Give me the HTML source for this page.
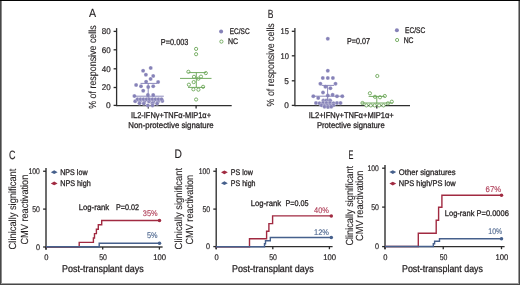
<!DOCTYPE html>
<html><head><meta charset="utf-8"><style>
html,body{margin:0;padding:0;background:#fff;}
svg{display:block;will-change:transform;}
text{font-family:"Liberation Sans", sans-serif;stroke:currentColor;stroke-width:0.28px;text-rendering:geometricPrecision;}
text.big{stroke-width:0.15px;}
text.r{stroke-width:0.1px;}
text.n{stroke-width:0.2px;}
text.p{stroke-width:0.15px;}
</style></head><body>
<svg width="520" height="285" viewBox="0 0 520 285">
<text x="89.0" y="17.2" font-size="11.8" textLength="7.10" lengthAdjust="spacingAndGlyphs" fill="#231f20" style="color:#231f20" class="big">A</text>
<text class="r" transform="translate(95.6,108.8) rotate(-90)" x="0" y="0" font-size="10.3" textLength="83.50" lengthAdjust="spacingAndGlyphs" fill="#231f20" style="color:#231f20">% of responsive cells</text>
<line x1="116.6" y1="28.1" x2="116.6" y2="106.2" stroke="#2e2e2e" stroke-width="1.3"/>
<line x1="116.6" y1="105.6" x2="231.7" y2="105.6" stroke="#2e2e2e" stroke-width="1.25"/>
<line x1="113.6" y1="31.4" x2="116.5" y2="31.4" stroke="#2a2a2a" stroke-width="1.3"/>
<text x="101.8" y="34.3" font-size="8.3" textLength="8.90" lengthAdjust="spacingAndGlyphs" fill="#231f20" style="color:#231f20" class="n">80</text>
<line x1="113.6" y1="49.8" x2="116.5" y2="49.8" stroke="#2a2a2a" stroke-width="1.3"/>
<text x="101.8" y="52.699999999999996" font-size="8.3" textLength="8.90" lengthAdjust="spacingAndGlyphs" fill="#231f20" style="color:#231f20" class="n">60</text>
<line x1="113.6" y1="68.8" x2="116.5" y2="68.8" stroke="#2a2a2a" stroke-width="1.3"/>
<text x="101.8" y="71.7" font-size="8.3" textLength="8.90" lengthAdjust="spacingAndGlyphs" fill="#231f20" style="color:#231f20" class="n">40</text>
<line x1="113.6" y1="87.5" x2="116.5" y2="87.5" stroke="#2a2a2a" stroke-width="1.3"/>
<text x="101.8" y="90.4" font-size="8.3" textLength="8.90" lengthAdjust="spacingAndGlyphs" fill="#231f20" style="color:#231f20" class="n">20</text>
<line x1="113.6" y1="105.4" x2="116.5" y2="105.4" stroke="#2a2a2a" stroke-width="1.3"/>
<text x="106.0" y="108.30000000000001" font-size="8.3" textLength="4.70" lengthAdjust="spacingAndGlyphs" fill="#231f20" style="color:#231f20" class="n">0</text>
<line x1="148.3" y1="105.4" x2="148.3" y2="108.5" stroke="#2a2a2a" stroke-width="1.3"/>
<line x1="196.1" y1="105.4" x2="196.1" y2="108.5" stroke="#2a2a2a" stroke-width="1.3"/>
<text x="160.8" y="45.2" font-size="8.7" textLength="27.60" lengthAdjust="spacingAndGlyphs" fill="#231f20" style="color:#231f20">P=0.003</text>
<circle cx="221.1" cy="31.4" r="2.0" fill="#8682b8" stroke="#fff" stroke-opacity="0.75" stroke-width="0"/>
<text x="229.8" y="34.0" font-size="8.2" textLength="19.80" lengthAdjust="spacingAndGlyphs" fill="#231f20" style="color:#231f20">EC/SC</text>
<circle cx="221.4" cy="41.6" r="1.6" fill="#fff" stroke="#6ca758" stroke-width="0.9"/>
<text x="227.9" y="44.0" font-size="8.2" textLength="10.10" lengthAdjust="spacingAndGlyphs" fill="#231f20" style="color:#231f20">NC</text>
<text x="131" y="118.4" font-size="8.4" textLength="80.00" lengthAdjust="spacingAndGlyphs" fill="#231f20" style="color:#231f20">IL2-IFN&#947;+TNF&#945;-MIP1&#945;+</text>
<text x="128.3" y="128.0" font-size="8.4" textLength="85.40" lengthAdjust="spacingAndGlyphs" fill="#231f20" style="color:#231f20">Non-protective signature</text>
<circle cx="150.7" cy="67.9" r="2.0" fill="#8682b8" stroke="#fff" stroke-opacity="0.75" stroke-width="0.35"/>
<circle cx="143.1" cy="70.8" r="2.0" fill="#8682b8" stroke="#fff" stroke-opacity="0.75" stroke-width="0.35"/>
<circle cx="145.9" cy="74.8" r="2.0" fill="#8682b8" stroke="#fff" stroke-opacity="0.75" stroke-width="0.35"/>
<circle cx="153.2" cy="75.9" r="2.0" fill="#8682b8" stroke="#fff" stroke-opacity="0.75" stroke-width="0.35"/>
<circle cx="150.6" cy="78.9" r="2.0" fill="#8682b8" stroke="#fff" stroke-opacity="0.75" stroke-width="0.35"/>
<circle cx="146.1" cy="81.7" r="2.0" fill="#8682b8" stroke="#fff" stroke-opacity="0.75" stroke-width="0.35"/>
<circle cx="158.1" cy="82.1" r="2.0" fill="#8682b8" stroke="#fff" stroke-opacity="0.75" stroke-width="0.35"/>
<circle cx="136.1" cy="85.0" r="2.0" fill="#8682b8" stroke="#fff" stroke-opacity="0.75" stroke-width="0.35"/>
<circle cx="141.0" cy="86.3" r="2.0" fill="#8682b8" stroke="#fff" stroke-opacity="0.75" stroke-width="0.35"/>
<circle cx="148.2" cy="86.9" r="2.0" fill="#8682b8" stroke="#fff" stroke-opacity="0.75" stroke-width="0.35"/>
<circle cx="153.2" cy="86.3" r="2.0" fill="#8682b8" stroke="#fff" stroke-opacity="0.75" stroke-width="0.35"/>
<circle cx="143.2" cy="90.7" r="2.0" fill="#8682b8" stroke="#fff" stroke-opacity="0.75" stroke-width="0.35"/>
<circle cx="147.9" cy="94.9" r="2.0" fill="#8682b8" stroke="#fff" stroke-opacity="0.75" stroke-width="0.35"/>
<circle cx="153.2" cy="94.9" r="2.0" fill="#8682b8" stroke="#fff" stroke-opacity="0.75" stroke-width="0.35"/>
<circle cx="134.4" cy="96.1" r="2.0" fill="#8682b8" stroke="#fff" stroke-opacity="0.75" stroke-width="0.35"/>
<circle cx="135.2" cy="101.2" r="2.0" fill="#8682b8" stroke="#fff" stroke-opacity="0.75" stroke-width="0.35"/>
<circle cx="139.8" cy="101.2" r="2.0" fill="#8682b8" stroke="#fff" stroke-opacity="0.75" stroke-width="0.35"/>
<circle cx="144.5" cy="101.4" r="2.0" fill="#8682b8" stroke="#fff" stroke-opacity="0.75" stroke-width="0.35"/>
<circle cx="149" cy="101.4" r="2.0" fill="#8682b8" stroke="#fff" stroke-opacity="0.75" stroke-width="0.35"/>
<circle cx="153.5" cy="101.4" r="2.0" fill="#8682b8" stroke="#fff" stroke-opacity="0.75" stroke-width="0.35"/>
<circle cx="158" cy="101.4" r="2.0" fill="#8682b8" stroke="#fff" stroke-opacity="0.75" stroke-width="0.35"/>
<circle cx="162.3" cy="101.0" r="2.0" fill="#8682b8" stroke="#fff" stroke-opacity="0.75" stroke-width="0.35"/>
<circle cx="137.5" cy="99.2" r="2.0" fill="#8682b8" stroke="#fff" stroke-opacity="0.75" stroke-width="0.35"/>
<circle cx="140.5" cy="99.2" r="2.0" fill="#8682b8" stroke="#fff" stroke-opacity="0.75" stroke-width="0.35"/>
<circle cx="143.5" cy="99.2" r="2.0" fill="#8682b8" stroke="#fff" stroke-opacity="0.75" stroke-width="0.35"/>
<circle cx="146.5" cy="99.2" r="2.0" fill="#8682b8" stroke="#fff" stroke-opacity="0.75" stroke-width="0.35"/>
<circle cx="149.5" cy="99.2" r="2.0" fill="#8682b8" stroke="#fff" stroke-opacity="0.75" stroke-width="0.35"/>
<circle cx="152.5" cy="99.2" r="2.0" fill="#8682b8" stroke="#fff" stroke-opacity="0.75" stroke-width="0.35"/>
<circle cx="155.5" cy="99.2" r="2.0" fill="#8682b8" stroke="#fff" stroke-opacity="0.75" stroke-width="0.35"/>
<circle cx="158.5" cy="99.2" r="2.0" fill="#8682b8" stroke="#fff" stroke-opacity="0.75" stroke-width="0.35"/>
<circle cx="161.5" cy="99.2" r="2.0" fill="#8682b8" stroke="#fff" stroke-opacity="0.75" stroke-width="0.35"/>
<circle cx="139.5" cy="103.3" r="2.0" fill="#8682b8" stroke="#fff" stroke-opacity="0.75" stroke-width="0.35"/>
<circle cx="143.8" cy="103.6" r="2.0" fill="#8682b8" stroke="#fff" stroke-opacity="0.75" stroke-width="0.35"/>
<circle cx="157.1" cy="103.6" r="2.0" fill="#8682b8" stroke="#fff" stroke-opacity="0.75" stroke-width="0.35"/>
<circle cx="152.5" cy="103.3" r="2.0" fill="#8682b8" stroke="#fff" stroke-opacity="0.75" stroke-width="0.35"/>
<circle cx="147.8" cy="105.4" r="2.0" fill="#8682b8" stroke="#fff" stroke-opacity="0.75" stroke-width="0.35"/>
<circle cx="152.5" cy="105.4" r="2.0" fill="#8682b8" stroke="#fff" stroke-opacity="0.75" stroke-width="0.35"/>
<line x1="140.5" y1="83.4" x2="157.2" y2="83.4" stroke="#8682b8" stroke-width="0.95"/>
<line x1="148.2" y1="83.4" x2="148.2" y2="98.0" stroke="#8682b8" stroke-width="0.95"/>
<line x1="133.2" y1="96.2" x2="163.8" y2="96.2" stroke="#8682b8" stroke-width="0.95"/>
<circle cx="196.1" cy="48.9" r="1.6" fill="#fff" stroke="#6ca758" stroke-width="0.9"/>
<circle cx="196.1" cy="54.2" r="1.6" fill="#fff" stroke="#6ca758" stroke-width="0.9"/>
<circle cx="188.4" cy="71.8" r="1.6" fill="#fff" stroke="#6ca758" stroke-width="0.9"/>
<circle cx="205.8" cy="73.1" r="1.6" fill="#fff" stroke="#6ca758" stroke-width="0.9"/>
<circle cx="194" cy="76.8" r="1.6" fill="#fff" stroke="#6ca758" stroke-width="0.9"/>
<circle cx="201" cy="76.6" r="1.6" fill="#fff" stroke="#6ca758" stroke-width="0.9"/>
<circle cx="198.4" cy="78.7" r="1.6" fill="#fff" stroke="#6ca758" stroke-width="0.9"/>
<circle cx="193.7" cy="82.1" r="1.6" fill="#fff" stroke="#6ca758" stroke-width="0.9"/>
<circle cx="188.9" cy="84.7" r="1.6" fill="#fff" stroke="#6ca758" stroke-width="0.9"/>
<circle cx="203.1" cy="86.8" r="1.6" fill="#fff" stroke="#6ca758" stroke-width="0.9"/>
<circle cx="193.4" cy="89.3" r="1.6" fill="#fff" stroke="#6ca758" stroke-width="0.9"/>
<circle cx="198.4" cy="89.7" r="1.6" fill="#fff" stroke="#6ca758" stroke-width="0.9"/>
<circle cx="196.1" cy="99.5" r="1.6" fill="#fff" stroke="#6ca758" stroke-width="0.9"/>
<line x1="188.4" y1="72.6" x2="206" y2="72.6" stroke="#6ca758" stroke-width="0.95"/>
<line x1="180" y1="78.4" x2="211.5" y2="78.4" stroke="#6ca758" stroke-width="0.95"/>
<line x1="196.3" y1="72.6" x2="196.3" y2="87.4" stroke="#6ca758" stroke-width="0.95"/>
<line x1="188" y1="87.4" x2="204.5" y2="87.4" stroke="#6ca758" stroke-width="0.95"/>
<text x="267.8" y="17.5" font-size="11.8" textLength="5.70" lengthAdjust="spacingAndGlyphs" fill="#231f20" style="color:#231f20" class="big">B</text>
<text class="r" transform="translate(273.9,106.4) rotate(-90)" x="0" y="0" font-size="10.3" textLength="83.20" lengthAdjust="spacingAndGlyphs" fill="#231f20" style="color:#231f20">% of responsive cells</text>
<line x1="294.9" y1="28.0" x2="294.9" y2="106.2" stroke="#2e2e2e" stroke-width="1.3"/>
<line x1="294.9" y1="105.6" x2="410" y2="105.6" stroke="#2e2e2e" stroke-width="1.25"/>
<line x1="291.8" y1="31.3" x2="294.9" y2="31.3" stroke="#2a2a2a" stroke-width="1.3"/>
<text x="280.5" y="34.2" font-size="8.3" textLength="8.40" lengthAdjust="spacingAndGlyphs" fill="#231f20" style="color:#231f20" class="n">15</text>
<line x1="291.8" y1="55.8" x2="294.9" y2="55.8" stroke="#2a2a2a" stroke-width="1.3"/>
<text x="280.5" y="58.699999999999996" font-size="8.3" textLength="8.40" lengthAdjust="spacingAndGlyphs" fill="#231f20" style="color:#231f20" class="n">10</text>
<line x1="291.8" y1="80.8" x2="294.9" y2="80.8" stroke="#2a2a2a" stroke-width="1.3"/>
<text x="284.29999999999995" y="83.7" font-size="8.3" textLength="4.60" lengthAdjust="spacingAndGlyphs" fill="#231f20" style="color:#231f20" class="n">5</text>
<line x1="291.8" y1="105.4" x2="294.9" y2="105.4" stroke="#2a2a2a" stroke-width="1.3"/>
<text x="284.29999999999995" y="108.30000000000001" font-size="8.3" textLength="4.60" lengthAdjust="spacingAndGlyphs" fill="#231f20" style="color:#231f20" class="n">0</text>
<line x1="327.7" y1="105.4" x2="327.7" y2="108.5" stroke="#2a2a2a" stroke-width="1.3"/>
<line x1="376.8" y1="105.4" x2="376.8" y2="108.5" stroke="#2a2a2a" stroke-width="1.3"/>
<text x="346.9" y="44.1" font-size="8.7" textLength="23.00" lengthAdjust="spacingAndGlyphs" fill="#231f20" style="color:#231f20">P=0.07</text>
<circle cx="396.9" cy="30.3" r="2.0" fill="#8682b8" stroke="#fff" stroke-opacity="0.75" stroke-width="0"/>
<text x="405" y="32.8" font-size="8.2" textLength="20.20" lengthAdjust="spacingAndGlyphs" fill="#231f20" style="color:#231f20">EC/SC</text>
<circle cx="397.1" cy="40.0" r="1.6" fill="#fff" stroke="#6ca758" stroke-width="0.9"/>
<text x="403.7" y="42.6" font-size="8.2" textLength="9.80" lengthAdjust="spacingAndGlyphs" fill="#231f20" style="color:#231f20">NC</text>
<text x="308.7" y="118.4" font-size="8.4" textLength="85.10" lengthAdjust="spacingAndGlyphs" fill="#231f20" style="color:#231f20">IL2+IFN&#947;+TNF&#945;+MIP1&#945;+</text>
<text x="316.9" y="127.7" font-size="8.4" textLength="67.80" lengthAdjust="spacingAndGlyphs" fill="#231f20" style="color:#231f20">Protective signature</text>
<circle cx="327.8" cy="38.8" r="2.0" fill="#8682b8" stroke="#fff" stroke-opacity="0.75" stroke-width="0.35"/>
<circle cx="327.8" cy="70.7" r="2.0" fill="#8682b8" stroke="#fff" stroke-opacity="0.75" stroke-width="0.35"/>
<circle cx="322.8" cy="78" r="2.0" fill="#8682b8" stroke="#fff" stroke-opacity="0.75" stroke-width="0.35"/>
<circle cx="327.8" cy="78" r="2.0" fill="#8682b8" stroke="#fff" stroke-opacity="0.75" stroke-width="0.35"/>
<circle cx="332.9" cy="78" r="2.0" fill="#8682b8" stroke="#fff" stroke-opacity="0.75" stroke-width="0.35"/>
<circle cx="320.4" cy="83.7" r="2.0" fill="#8682b8" stroke="#fff" stroke-opacity="0.75" stroke-width="0.35"/>
<circle cx="335.5" cy="83.7" r="2.0" fill="#8682b8" stroke="#fff" stroke-opacity="0.75" stroke-width="0.35"/>
<circle cx="325.4" cy="86.8" r="2.0" fill="#8682b8" stroke="#fff" stroke-opacity="0.75" stroke-width="0.35"/>
<circle cx="330.4" cy="88.2" r="2.0" fill="#8682b8" stroke="#fff" stroke-opacity="0.75" stroke-width="0.35"/>
<circle cx="323" cy="92.5" r="2.0" fill="#8682b8" stroke="#fff" stroke-opacity="0.75" stroke-width="0.35"/>
<circle cx="313.3" cy="96.2" r="2.0" fill="#8682b8" stroke="#fff" stroke-opacity="0.75" stroke-width="0.35"/>
<circle cx="327.8" cy="95.6" r="2.0" fill="#8682b8" stroke="#fff" stroke-opacity="0.75" stroke-width="0.35"/>
<circle cx="332.6" cy="94.8" r="2.0" fill="#8682b8" stroke="#fff" stroke-opacity="0.75" stroke-width="0.35"/>
<circle cx="337" cy="96.3" r="2.0" fill="#8682b8" stroke="#fff" stroke-opacity="0.75" stroke-width="0.35"/>
<circle cx="342.3" cy="96.2" r="2.0" fill="#8682b8" stroke="#fff" stroke-opacity="0.75" stroke-width="0.35"/>
<circle cx="318.2" cy="98" r="2.0" fill="#8682b8" stroke="#fff" stroke-opacity="0.75" stroke-width="0.35"/>
<circle cx="323.4" cy="100.6" r="2.0" fill="#8682b8" stroke="#fff" stroke-opacity="0.75" stroke-width="0.35"/>
<circle cx="326.2" cy="100.6" r="2.0" fill="#8682b8" stroke="#fff" stroke-opacity="0.75" stroke-width="0.35"/>
<circle cx="329" cy="100.6" r="2.0" fill="#8682b8" stroke="#fff" stroke-opacity="0.75" stroke-width="0.35"/>
<circle cx="330.2" cy="100.6" r="2.0" fill="#8682b8" stroke="#fff" stroke-opacity="0.75" stroke-width="0.35"/>
<circle cx="316" cy="103" r="2.0" fill="#8682b8" stroke="#fff" stroke-opacity="0.75" stroke-width="0.35"/>
<circle cx="319.5" cy="103.2" r="2.0" fill="#8682b8" stroke="#fff" stroke-opacity="0.75" stroke-width="0.35"/>
<circle cx="323" cy="103" r="2.0" fill="#8682b8" stroke="#fff" stroke-opacity="0.75" stroke-width="0.35"/>
<circle cx="326.5" cy="103.2" r="2.0" fill="#8682b8" stroke="#fff" stroke-opacity="0.75" stroke-width="0.35"/>
<circle cx="330" cy="103" r="2.0" fill="#8682b8" stroke="#fff" stroke-opacity="0.75" stroke-width="0.35"/>
<circle cx="333.5" cy="103.2" r="2.0" fill="#8682b8" stroke="#fff" stroke-opacity="0.75" stroke-width="0.35"/>
<circle cx="337" cy="103" r="2.0" fill="#8682b8" stroke="#fff" stroke-opacity="0.75" stroke-width="0.35"/>
<circle cx="340.5" cy="103" r="2.0" fill="#8682b8" stroke="#fff" stroke-opacity="0.75" stroke-width="0.35"/>
<circle cx="321.6" cy="105.3" r="2.0" fill="#8682b8" stroke="#fff" stroke-opacity="0.75" stroke-width="0.35"/>
<circle cx="324.6" cy="105.5" r="2.0" fill="#8682b8" stroke="#fff" stroke-opacity="0.75" stroke-width="0.35"/>
<circle cx="327.6" cy="105.5" r="2.0" fill="#8682b8" stroke="#fff" stroke-opacity="0.75" stroke-width="0.35"/>
<circle cx="330.6" cy="105.5" r="2.0" fill="#8682b8" stroke="#fff" stroke-opacity="0.75" stroke-width="0.35"/>
<circle cx="333.4" cy="105.3" r="2.0" fill="#8682b8" stroke="#fff" stroke-opacity="0.75" stroke-width="0.35"/>
<circle cx="324.5" cy="106.7" r="2.0" fill="#8682b8" stroke="#fff" stroke-opacity="0.75" stroke-width="0.35"/>
<circle cx="328" cy="106.9" r="2.0" fill="#8682b8" stroke="#fff" stroke-opacity="0.75" stroke-width="0.35"/>
<circle cx="331.2" cy="106.7" r="2.0" fill="#8682b8" stroke="#fff" stroke-opacity="0.75" stroke-width="0.35"/>
<line x1="321.7" y1="85.4" x2="334" y2="85.4" stroke="#8682b8" stroke-width="0.95"/>
<line x1="327.6" y1="85.4" x2="327.6" y2="100.5" stroke="#8682b8" stroke-width="0.95"/>
<line x1="312" y1="96.2" x2="343.6" y2="96.2" stroke="#8682b8" stroke-width="0.95"/>
<circle cx="377.3" cy="76" r="1.6" fill="#fff" stroke="#6ca758" stroke-width="0.9"/>
<circle cx="369.9" cy="93.3" r="1.6" fill="#fff" stroke="#6ca758" stroke-width="0.9"/>
<circle cx="375" cy="96.8" r="1.6" fill="#fff" stroke="#6ca758" stroke-width="0.9"/>
<circle cx="380" cy="97.3" r="1.6" fill="#fff" stroke="#6ca758" stroke-width="0.9"/>
<circle cx="384.8" cy="96" r="1.6" fill="#fff" stroke="#6ca758" stroke-width="0.9"/>
<circle cx="362.5" cy="103" r="1.6" fill="#fff" stroke="#6ca758" stroke-width="0.9"/>
<circle cx="391.8" cy="101.7" r="1.6" fill="#fff" stroke="#6ca758" stroke-width="0.9"/>
<circle cx="387.9" cy="103.4" r="1.6" fill="#fff" stroke="#6ca758" stroke-width="0.9"/>
<circle cx="366.4" cy="105.4" r="1.6" fill="#fff" stroke="#6ca758" stroke-width="0.9"/>
<circle cx="370.8" cy="105.4" r="1.6" fill="#fff" stroke="#6ca758" stroke-width="0.9"/>
<circle cx="374.7" cy="105.4" r="1.6" fill="#fff" stroke="#6ca758" stroke-width="0.9"/>
<circle cx="379.1" cy="105.4" r="1.6" fill="#fff" stroke="#6ca758" stroke-width="0.9"/>
<circle cx="383.5" cy="105.4" r="1.6" fill="#fff" stroke="#6ca758" stroke-width="0.9"/>
<line x1="368.6" y1="96.4" x2="384.8" y2="96.4" stroke="#6ca758" stroke-width="0.95"/>
<line x1="376.8" y1="96.4" x2="376.8" y2="104" stroke="#6ca758" stroke-width="0.95"/>
<line x1="361.6" y1="103" x2="392.7" y2="103" stroke="#6ca758" stroke-width="0.95"/>
<line x1="46.0" y1="168.1" x2="46.0" y2="249.7" stroke="#3c3c3c" stroke-width="1.5"/>
<line x1="46.0" y1="247.0" x2="162.6" y2="247.0" stroke="#3c3c3c" stroke-width="1.5"/>
<line x1="43.1" y1="171.25" x2="46.0" y2="171.25" stroke="#2a2a2a" stroke-width="1.3"/>
<text x="28.599999999999998" y="174.1" font-size="8.2" textLength="11.30" lengthAdjust="spacingAndGlyphs" fill="#231f20" style="color:#231f20" class="n">100</text>
<line x1="43.1" y1="209.1" x2="46.0" y2="209.1" stroke="#2a2a2a" stroke-width="1.3"/>
<text x="32.199999999999996" y="211.95" font-size="8.2" textLength="7.70" lengthAdjust="spacingAndGlyphs" fill="#231f20" style="color:#231f20" class="n">50</text>
<line x1="43.1" y1="247.0" x2="46.0" y2="247.0" stroke="#2a2a2a" stroke-width="1.3"/>
<text x="35.9" y="249.85" font-size="8.2" textLength="4.00" lengthAdjust="spacingAndGlyphs" fill="#231f20" style="color:#231f20" class="n">0</text>
<line x1="46.0" y1="247.0" x2="46.0" y2="249.6" stroke="#2a2a2a" stroke-width="1.3"/>
<text x="44.199999999999996" y="259.9" font-size="8.2" textLength="4.20" lengthAdjust="spacingAndGlyphs" fill="#231f20" style="color:#231f20" class="n">0</text>
<line x1="102.7" y1="247.0" x2="102.7" y2="249.6" stroke="#2a2a2a" stroke-width="1.3"/>
<text x="99.15" y="259.9" font-size="8.2" textLength="7.70" lengthAdjust="spacingAndGlyphs" fill="#231f20" style="color:#231f20" class="n">50</text>
<line x1="159.4" y1="247.0" x2="159.4" y2="249.6" stroke="#2a2a2a" stroke-width="1.3"/>
<text x="153.3" y="259.9" font-size="8.2" textLength="12.80" lengthAdjust="spacingAndGlyphs" fill="#231f20" style="color:#231f20" class="n">100</text>
<text x="8.9" y="158.5" font-size="12.2" textLength="6.50" lengthAdjust="spacingAndGlyphs" fill="#231f20" style="color:#231f20" class="big">C</text>
<text class="r" transform="translate(16.1,249.4) rotate(-90)" x="0" y="0" font-size="10.3" textLength="80.80" lengthAdjust="spacingAndGlyphs" fill="#231f20" style="color:#231f20">Clinically significant</text>
<text class="r" transform="translate(27.7,244.5) rotate(-90)" x="0" y="0" font-size="10.3" textLength="69.80" lengthAdjust="spacingAndGlyphs" fill="#231f20" style="color:#231f20">CMV reactivation</text>
<text x="62" y="272.0" font-size="9.9" textLength="81.80" lengthAdjust="spacingAndGlyphs" fill="#231f20" style="color:#231f20">Post-transplant days</text>
<polyline points="46.0,246.8 79.2,246.8 79.2,242.4 93.4,242.4 93.4,238 94.5,238 94.5,233.6 96.4,233.6 96.4,229.2 98.3,229.2 98.3,224.8 101.7,224.8 101.7,220.5 159.5,220.5" fill="none" stroke="#a12a41" stroke-width="1.4" stroke-linejoin="miter"/>
<circle cx="159.5" cy="220.5" r="1.75" fill="#a12a41" stroke="#fff" stroke-opacity="0.75" stroke-width="0"/>
<polyline points="46.0,246.8 99.2,246.8 99.2,243.2 159.5,243.2" fill="none" stroke="#46608c" stroke-width="1.4" stroke-linejoin="miter"/>
<circle cx="159.5" cy="243.2" r="1.75" fill="#46608c" stroke="#fff" stroke-opacity="0.75" stroke-width="0"/>
<polygon points="50.800000000000004,172.2 54.2,170.29999999999998 57.6,172.2 54.2,174.1" fill="#46608c"/>
<text x="60.2" y="174.6" font-size="8.2" textLength="27.40" lengthAdjust="spacingAndGlyphs" fill="#231f20" style="color:#231f20">NPS low</text>
<polygon points="50.800000000000004,183.4 54.2,181.5 57.6,183.4 54.2,185.3" fill="#a12a41"/>
<text x="60.2" y="185.7" font-size="8.2" textLength="30.60" lengthAdjust="spacingAndGlyphs" fill="#231f20" style="color:#231f20">NPS high</text>
<text x="78.8" y="210.1" font-size="8.2" textLength="30.30" lengthAdjust="spacingAndGlyphs" fill="#231f20" style="color:#231f20">Log-rank</text>
<text x="116" y="210.1" font-size="8.2" textLength="23.10" lengthAdjust="spacingAndGlyphs" fill="#231f20" style="color:#231f20">P=0.02</text>
<text x="142.8" y="215.8" font-size="8.2" textLength="14.80" lengthAdjust="spacingAndGlyphs" fill="#b0405a" style="color:#b0405a" class="p">35%</text>
<text x="147" y="238.1" font-size="8.2" textLength="10.60" lengthAdjust="spacingAndGlyphs" fill="#506990" style="color:#506990" class="p">5%</text>
<line x1="216.2" y1="168.1" x2="216.2" y2="249.29999999999998" stroke="#2e2e2e" stroke-width="1.35"/>
<line x1="216.2" y1="246.6" x2="332.6" y2="246.6" stroke="#2e2e2e" stroke-width="1.3"/>
<line x1="213.29999999999998" y1="171.25" x2="216.2" y2="171.25" stroke="#2a2a2a" stroke-width="1.3"/>
<text x="198.79999999999998" y="174.1" font-size="8.2" textLength="11.30" lengthAdjust="spacingAndGlyphs" fill="#231f20" style="color:#231f20" class="n">100</text>
<line x1="213.29999999999998" y1="209.1" x2="216.2" y2="209.1" stroke="#2a2a2a" stroke-width="1.3"/>
<text x="202.4" y="211.95" font-size="8.2" textLength="7.70" lengthAdjust="spacingAndGlyphs" fill="#231f20" style="color:#231f20" class="n">50</text>
<line x1="213.29999999999998" y1="246.6" x2="216.2" y2="246.6" stroke="#2a2a2a" stroke-width="1.3"/>
<text x="206.1" y="249.45" font-size="8.2" textLength="4.00" lengthAdjust="spacingAndGlyphs" fill="#231f20" style="color:#231f20" class="n">0</text>
<line x1="216.2" y1="246.6" x2="216.2" y2="249.2" stroke="#2a2a2a" stroke-width="1.3"/>
<text x="214.4" y="259.9" font-size="8.2" textLength="4.20" lengthAdjust="spacingAndGlyphs" fill="#231f20" style="color:#231f20" class="n">0</text>
<line x1="272.79999999999995" y1="246.6" x2="272.79999999999995" y2="249.2" stroke="#2a2a2a" stroke-width="1.3"/>
<text x="269.24999999999994" y="259.9" font-size="8.2" textLength="7.70" lengthAdjust="spacingAndGlyphs" fill="#231f20" style="color:#231f20" class="n">50</text>
<line x1="329.4" y1="246.6" x2="329.4" y2="249.2" stroke="#2a2a2a" stroke-width="1.3"/>
<text x="323.3" y="259.9" font-size="8.2" textLength="12.80" lengthAdjust="spacingAndGlyphs" fill="#231f20" style="color:#231f20" class="n">100</text>
<text x="174.5" y="158.4" font-size="12.2" textLength="7.40" lengthAdjust="spacingAndGlyphs" fill="#231f20" style="color:#231f20" class="big">D</text>
<text class="r" transform="translate(181.5,249.4) rotate(-90)" x="0" y="0" font-size="10.3" textLength="81.50" lengthAdjust="spacingAndGlyphs" fill="#231f20" style="color:#231f20">Clinically significant</text>
<text class="r" transform="translate(193.2,244.5) rotate(-90)" x="0" y="0" font-size="10.3" textLength="69.60" lengthAdjust="spacingAndGlyphs" fill="#231f20" style="color:#231f20">CMV reactivation</text>
<text x="232" y="272.1" font-size="9.9" textLength="81.80" lengthAdjust="spacingAndGlyphs" fill="#231f20" style="color:#231f20">Post-transplant days</text>
<polyline points="215.9,246.8 249.5,246.8 249.5,238.8 266.6,238.8 266.6,231.2 268.9,231.2 268.9,223.6 272.6,223.6 272.6,215.9 331.3,215.9" fill="none" stroke="#a12a41" stroke-width="1.4" stroke-linejoin="miter"/>
<circle cx="331.3" cy="215.9" r="1.75" fill="#a12a41" stroke="#fff" stroke-opacity="0.75" stroke-width="0"/>
<polyline points="215.9,246.8 264.5,246.8 264.5,243.8 265.5,243.8 265.5,240.7 270.3,240.7 270.3,237.5 331.3,237.5" fill="none" stroke="#46608c" stroke-width="1.4" stroke-linejoin="miter"/>
<circle cx="331.3" cy="237.5" r="1.75" fill="#46608c" stroke="#fff" stroke-opacity="0.75" stroke-width="0"/>
<polygon points="221.0,172.3 224.4,170.4 227.8,172.3 224.4,174.20000000000002" fill="#a12a41"/>
<text x="230.8" y="174.5" font-size="8.2" textLength="22.10" lengthAdjust="spacingAndGlyphs" fill="#231f20" style="color:#231f20">PS low</text>
<polygon points="221.0,183.2 224.4,181.29999999999998 227.8,183.2 224.4,185.1" fill="#46608c"/>
<text x="230.8" y="186.0" font-size="8.2" textLength="24.70" lengthAdjust="spacingAndGlyphs" fill="#231f20" style="color:#231f20">PS high</text>
<text x="250.7" y="206.3" font-size="8.2" textLength="30.40" lengthAdjust="spacingAndGlyphs" fill="#231f20" style="color:#231f20">Log-rank</text>
<text x="285.4" y="206.3" font-size="8.2" textLength="23.20" lengthAdjust="spacingAndGlyphs" fill="#231f20" style="color:#231f20">P=0.05</text>
<text x="314" y="212.8" font-size="8.2" textLength="14.90" lengthAdjust="spacingAndGlyphs" fill="#b0405a" style="color:#b0405a" class="p">40%</text>
<text x="314" y="234.9" font-size="8.2" textLength="14.90" lengthAdjust="spacingAndGlyphs" fill="#506990" style="color:#506990" class="p">12%</text>
<line x1="385.0" y1="165.1" x2="385.0" y2="249.29999999999998" stroke="#3c3c3c" stroke-width="1.5"/>
<line x1="385.0" y1="246.6" x2="504.6" y2="246.6" stroke="#2e2e2e" stroke-width="1.3"/>
<line x1="382.1" y1="168.2" x2="385.0" y2="168.2" stroke="#2a2a2a" stroke-width="1.3"/>
<text x="367.59999999999997" y="171.04999999999998" font-size="8.2" textLength="11.30" lengthAdjust="spacingAndGlyphs" fill="#231f20" style="color:#231f20" class="n">100</text>
<line x1="382.1" y1="207.1" x2="385.0" y2="207.1" stroke="#2a2a2a" stroke-width="1.3"/>
<text x="371.2" y="209.95" font-size="8.2" textLength="7.70" lengthAdjust="spacingAndGlyphs" fill="#231f20" style="color:#231f20" class="n">50</text>
<line x1="382.1" y1="246.6" x2="385.0" y2="246.6" stroke="#2a2a2a" stroke-width="1.3"/>
<text x="374.9" y="249.45" font-size="8.2" textLength="4.00" lengthAdjust="spacingAndGlyphs" fill="#231f20" style="color:#231f20" class="n">0</text>
<line x1="385.0" y1="246.6" x2="385.0" y2="249.2" stroke="#2a2a2a" stroke-width="1.3"/>
<text x="383.2" y="259.9" font-size="8.2" textLength="4.20" lengthAdjust="spacingAndGlyphs" fill="#231f20" style="color:#231f20" class="n">0</text>
<line x1="443.25" y1="246.6" x2="443.25" y2="249.2" stroke="#2a2a2a" stroke-width="1.3"/>
<text x="439.7" y="259.9" font-size="8.2" textLength="7.70" lengthAdjust="spacingAndGlyphs" fill="#231f20" style="color:#231f20" class="n">50</text>
<line x1="501.5" y1="246.6" x2="501.5" y2="249.2" stroke="#2a2a2a" stroke-width="1.3"/>
<text x="495.40000000000003" y="259.9" font-size="8.2" textLength="12.80" lengthAdjust="spacingAndGlyphs" fill="#231f20" style="color:#231f20" class="n">100</text>
<text x="348.4" y="158.6" font-size="12.2" textLength="4.90" lengthAdjust="spacingAndGlyphs" fill="#231f20" style="color:#231f20" class="big">E</text>
<text class="r" transform="translate(352.5,245.6) rotate(-90)" x="0" y="0" font-size="10.3" textLength="79.70" lengthAdjust="spacingAndGlyphs" fill="#231f20" style="color:#231f20">Clinically significant</text>
<text class="r" transform="translate(363.1,241.0) rotate(-90)" x="0" y="0" font-size="10.3" textLength="70.50" lengthAdjust="spacingAndGlyphs" fill="#231f20" style="color:#231f20">CMV reactivation</text>
<text x="402" y="272.1" font-size="9.9" textLength="81.00" lengthAdjust="spacingAndGlyphs" fill="#231f20" style="color:#231f20">Post-transplant days</text>
<polyline points="385.0,246.5 418.3,246.5 418.3,233.3 436.2,233.3 436.2,220.2 438.6,220.2 438.6,207.3 441.9,207.3 441.9,195.2 501.5,195.2" fill="none" stroke="#a12a41" stroke-width="1.4" stroke-linejoin="miter"/>
<circle cx="501.5" cy="195.2" r="1.75" fill="#a12a41" stroke="#fff" stroke-opacity="0.75" stroke-width="0"/>
<polyline points="385.0,246.5 433.3,246.5 433.3,243.8 434.6,243.8 434.6,241.3 439.5,241.3 439.5,238.8 501.5,238.8" fill="none" stroke="#46608c" stroke-width="1.4" stroke-linejoin="miter"/>
<circle cx="501.5" cy="238.8" r="1.75" fill="#46608c" stroke="#fff" stroke-opacity="0.75" stroke-width="0"/>
<polygon points="389.40000000000003,172.1 392.8,170.2 396.2,172.1 392.8,174.0" fill="#46608c"/>
<text x="398.8" y="175.1" font-size="8.2" textLength="56.90" lengthAdjust="spacingAndGlyphs" fill="#231f20" style="color:#231f20">Other signatures</text>
<polygon points="389.40000000000003,183.6 392.8,181.7 396.2,183.6 392.8,185.5" fill="#a12a41"/>
<text x="398.8" y="186.0" font-size="8.2" textLength="56.90" lengthAdjust="spacingAndGlyphs" fill="#231f20" style="color:#231f20">NPS high/PS low</text>
<text x="444.8" y="216.4" font-size="8.2" textLength="64.10" lengthAdjust="spacingAndGlyphs" fill="#231f20" style="color:#231f20">Log-rank P=0.0006</text>
<text x="485.6" y="191.5" font-size="8.2" textLength="15.50" lengthAdjust="spacingAndGlyphs" fill="#b0405a" style="color:#b0405a" class="p">67%</text>
<text x="488.3" y="233.6" font-size="8.2" textLength="13.80" lengthAdjust="spacingAndGlyphs" fill="#506990" style="color:#506990" class="p">10%</text>
<rect x="1" y="0" width="1" height="285" fill="#8c8c8c"/>
<rect x="518" y="0" width="1" height="285" fill="#9a9a9a"/>
<rect x="0" y="283" width="520" height="1" fill="#a0a0a0"/>
<rect x="0" y="0" width="1" height="285" fill="#484848"/>
<rect x="519" y="0" width="1" height="285" fill="#484848"/>
<rect x="0" y="284" width="520" height="1" fill="#484848"/>
<rect x="0" y="0" width="520" height="1" fill="#050505"/>
</svg>
</body></html>
